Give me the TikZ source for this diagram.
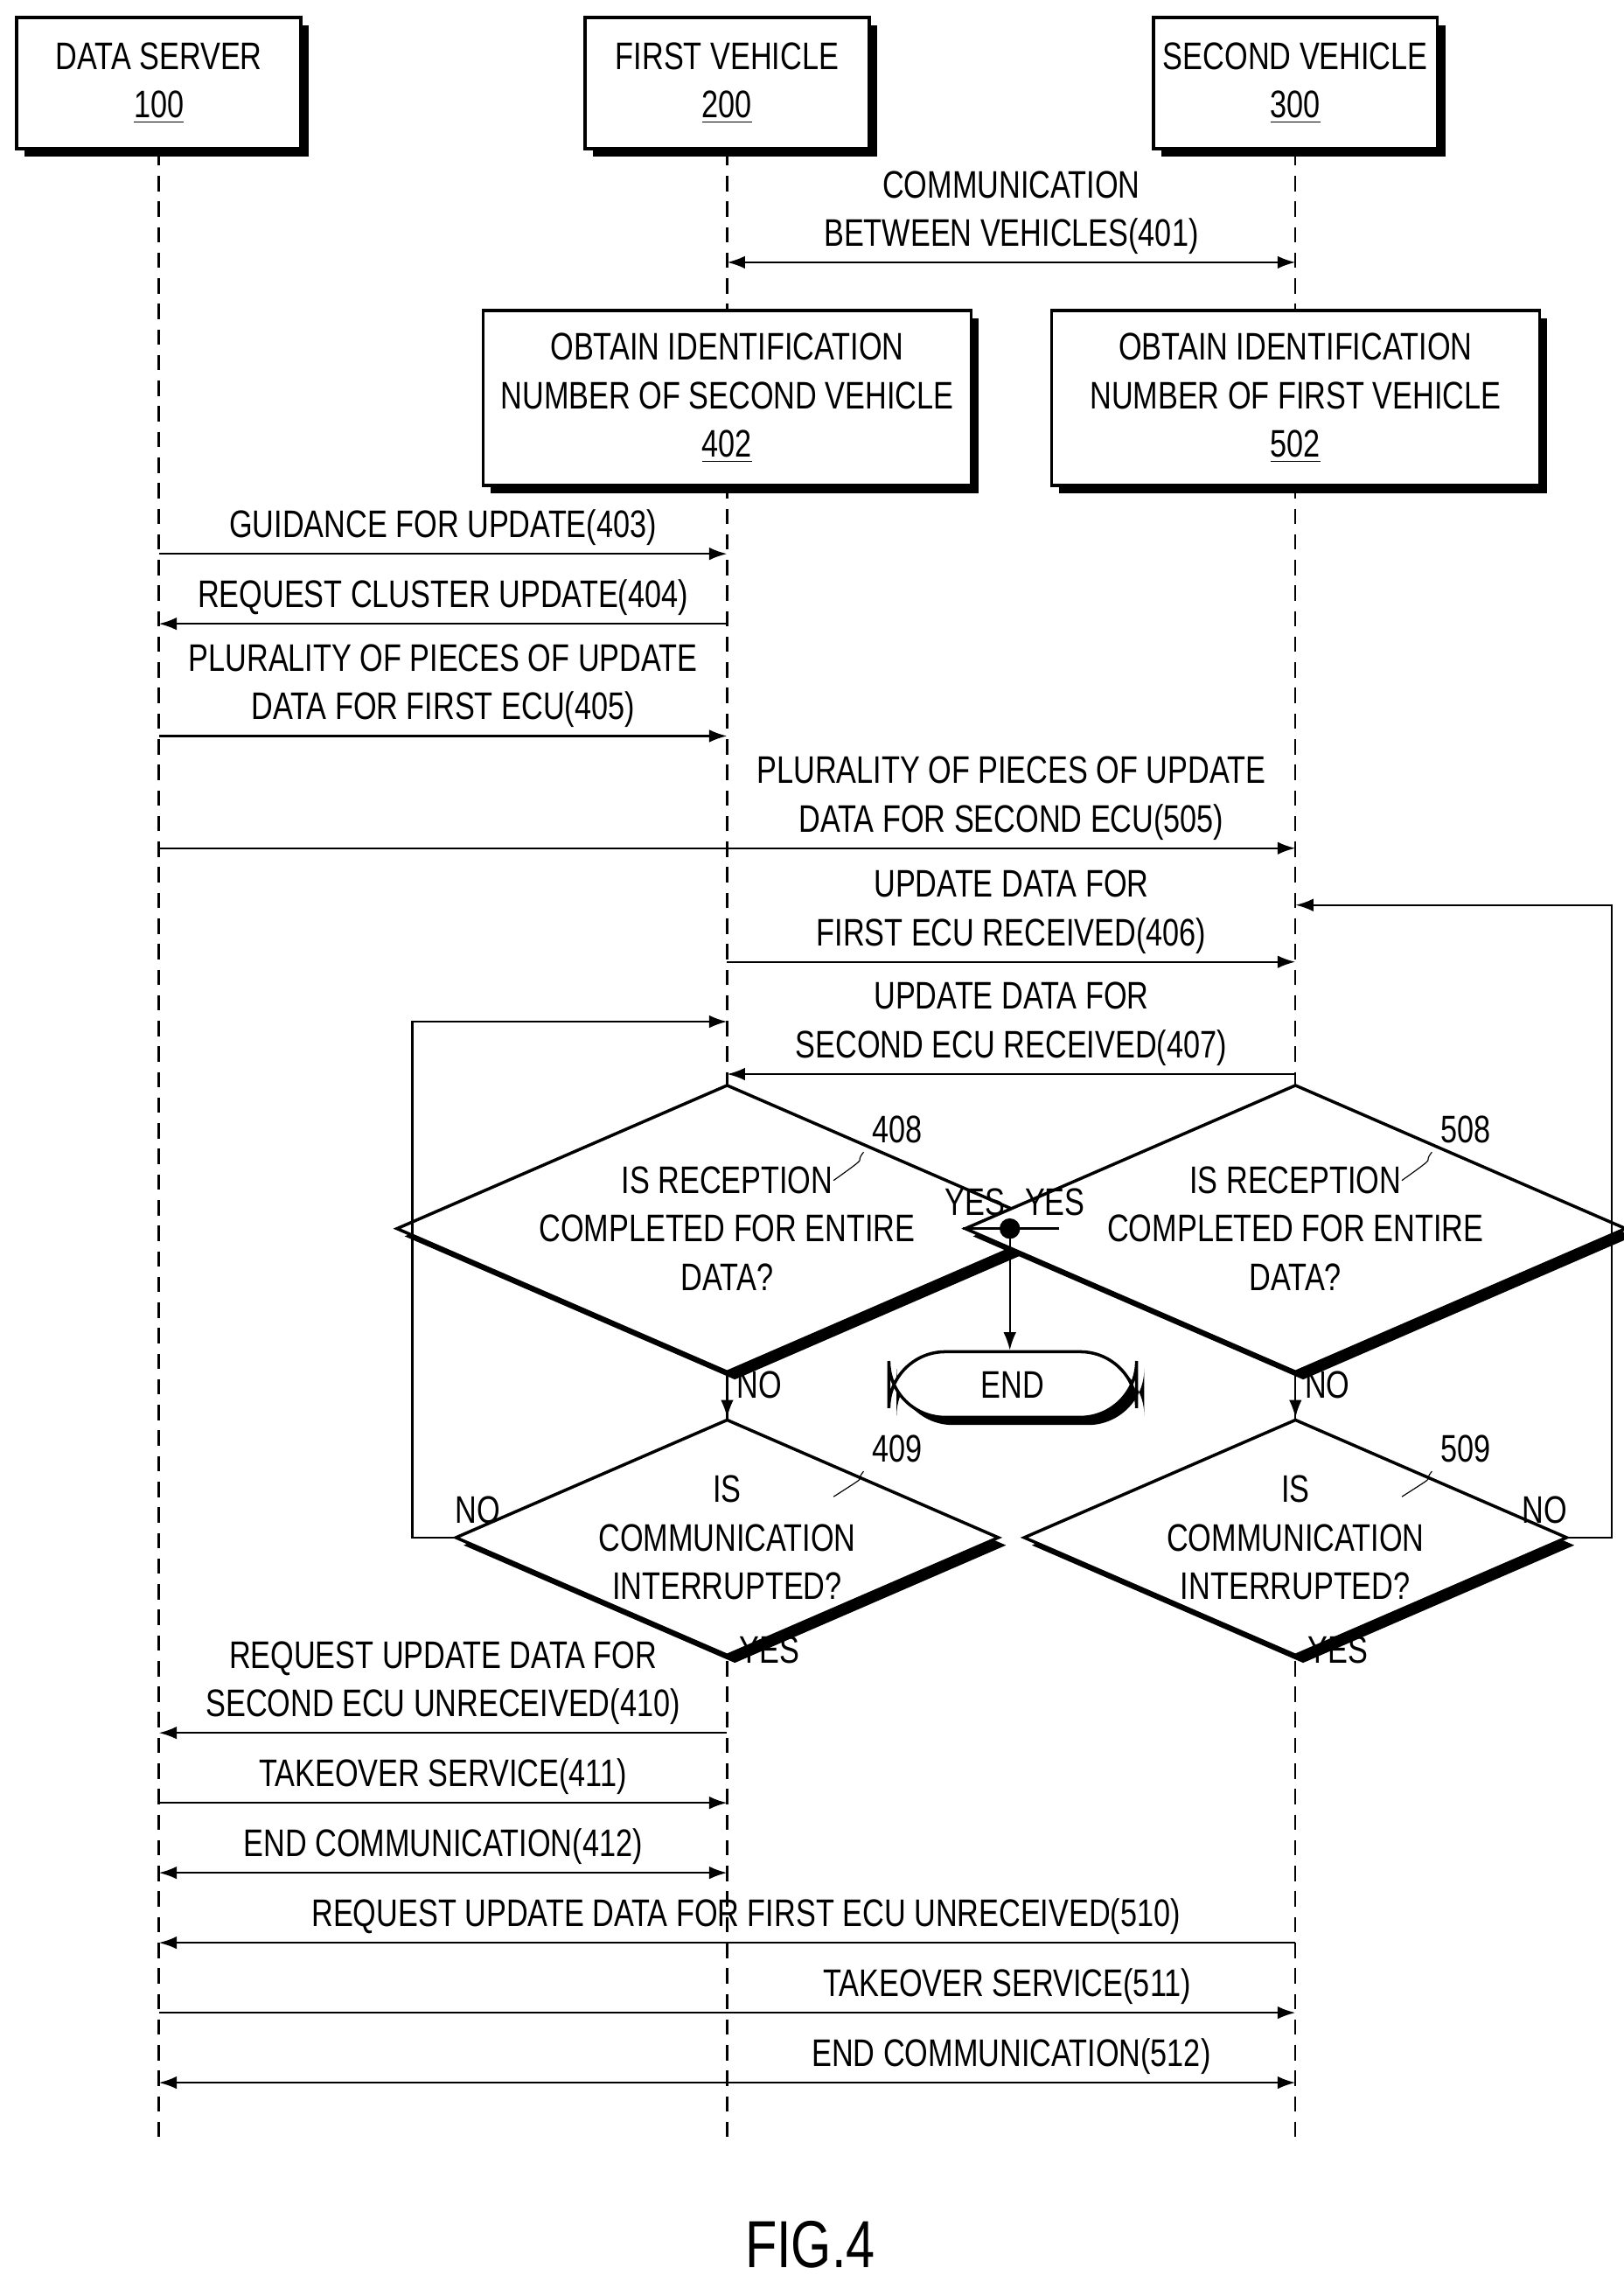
\documentclass[tikz,border=0pt]{standalone}
\usepackage{fontspec}
\setmainfont{Liberation Sans}[FakeStretch=0.78]
\usetikzlibrary{arrows.meta,shapes.geometric,shadows}
\tikzset{
    box/.style={draw, line width=1.2pt, fill=white, align=center, drop shadow={shadow xshift=3pt, shadow yshift=-3pt, fill=black, opacity=1}}, % boxes with heavy shadow
    dec/.style={draw, diamond, line width=1.2pt, fill=white, align=center, aspect=2.3, inner sep=0pt, drop shadow={shadow xshift=3pt, shadow yshift=-3pt, fill=black, opacity=1}},
    msg/.style={-{Latex[length=7pt,width=5pt]}, line width=0.8pt},
    life/.style={dashed, line width=0.8pt, dash pattern=on 6pt off 4pt}
}
\begin{document}
\begin{tikzpicture}[x=0.02cm, y=-0.02cm, font=\fontsize{15}{19}\selectfont]
    \useasboundingbox (0,0) rectangle (1114,1561);

    % headers
    \node[box, minimum width=3.9cm, minimum height=1.8cm] (srv) at (109,57) {DATA SERVER\\\underline{100}};
    \node[box, minimum width=3.9cm, minimum height=1.8cm] (veh1) at (499,57) {FIRST VEHICLE\\\underline{200}};
    \node[box, minimum width=3.9cm, minimum height=1.8cm] (veh2) at (889,57) {SECOND VEHICLE\\\underline{300}};
    \coordinate (srvEnd) at (109,1470);
    \coordinate (veh1End) at (499,1470);
    \coordinate (veh2End) at (889,1470);
    \draw[life] (srv) -- (srvEnd);
    \draw[life] (veh1) -- (veh1End);
    \draw[life] (veh2) -- (veh2End);

    % 401
    \coordinate (a1) at (499,180); \coordinate (a2) at (889,180);
    \draw[msg, {Latex[length=7pt,width=5pt]}-{Latex[length=7pt,width=5pt]}] (a1) -- (a2);
    \node[align=center] at (694,146) {COMMUNICATION\\BETWEEN VEHICLES(401)};

    \node[box, minimum width=6.7cm, minimum height=2.4cm] (obt1) at (499,273) {OBTAIN IDENTIFICATION\\NUMBER OF SECOND VEHICLE\\\underline{402}};
    \node[box, minimum width=6.7cm, minimum height=2.4cm] (obt2) at (889,273) {OBTAIN IDENTIFICATION\\NUMBER OF FIRST VEHICLE\\\underline{502}};

    % messages
    \foreach \y/\xa/\xb/\lx/\txt in {
        380/109/499/304/{GUIDANCE FOR UPDATE(403)},
        428/499/109/304/{REQUEST CLUSTER UPDATE(404)},
        505/109/499/304/{PLURALITY OF PIECES OF UPDATE\\DATA FOR FIRST ECU(405)},
        582/109/889/694/{PLURALITY OF PIECES OF UPDATE\\DATA FOR SECOND ECU(505)},
        660/499/889/694/{UPDATE DATA FOR\\FIRST ECU RECEIVED(406)},
        737/889/499/694/{UPDATE DATA FOR\\SECOND ECU RECEIVED(407)},
        1189/499/109/304/{REQUEST UPDATE DATA FOR\\SECOND ECU UNRECEIVED(410)},
        1237/109/499/304/{TAKEOVER SERVICE(411)},
        1333/889/109/512/{REQUEST UPDATE DATA FOR FIRST ECU UNRECEIVED(510)},
        1381/109/889/694/{TAKEOVER SERVICE(511)}
    } {
        \draw[msg] (\xa,\y) -- (\xb,\y);
        \node[align=center, anchor=south, inner sep=3pt] at (\lx,\y) {\txt};
    }
    \draw[msg, {Latex[length=7pt,width=5pt]}-{Latex[length=7pt,width=5pt]}] (109,1285) -- (499,1285);
    \node[anchor=south, inner sep=3pt] at (304,1285) {END COMMUNICATION(412)};
    \draw[msg, {Latex[length=7pt,width=5pt]}-{Latex[length=7pt,width=5pt]}] (109,1429) -- (889,1429);
    \node[anchor=south, inner sep=3pt] at (694,1429) {END COMMUNICATION(512)};

    % decisions
    \node[dec, minimum width=6.75cm, minimum height=2.95cm] (chk1) at (499,843) {IS RECEPTION\\COMPLETED FOR ENTIRE\\DATA?};
    \node[dec, minimum width=6.75cm, minimum height=2.95cm] (chk2) at (889,843) {IS RECEPTION\\COMPLETED FOR ENTIRE\\DATA?};
    \node[dec, minimum width=6.75cm, minimum height=2.3cm] (intr1) at (499,1055) {IS\\COMMUNICATION\\INTERRUPTED?};
    \node[dec, minimum width=6.75cm, minimum height=2.3cm] (intr2) at (889,1055) {IS\\COMMUNICATION\\INTERRUPTED?};
    \node (n408) at (616,775) {408};
    \node (n508) at (1006,775) {508};
    \node (n409) at (616,994) {409};
    \node (n509) at (1006,994) {509};
    \draw (n408.south west) .. controls (585,800) and (600,790) .. (572,810);
    \draw (n508.south west) .. controls (975,800) and (990,790) .. (962,810);
    \draw (n409.south west) .. controls (585,1019) and (600,1009) .. (572,1027);
    \draw (n509.south west) .. controls (975,1019) and (990,1009) .. (962,1027);

    % end
    \coordinate (jn) at (693,843);
    \node[draw, line width=1.2pt, rounded corners=22pt, minimum width=3.4cm, minimum height=0.9cm, fill=white, drop shadow={shadow xshift=3pt, shadow yshift=-3pt, fill=black, opacity=1}] (stop) at (695,950) {END};
    \draw[line width=0.8pt] (chk1.east) -- (chk2.west);
    \fill (jn) circle (4pt);
    \draw[msg] (jn) -- (stop.north -| jn);
    \node at (669,825) {YES};
    \node at (724,825) {YES};

    \draw[msg] (chk1.south) -- node[right, pos=0.25] {NO} (intr1.north);
    \draw[msg] (chk2.south) -- node[right, pos=0.25] {NO} (intr2.north);
    \coordinate (lp1) at (283,701);
    \coordinate (lp2) at (1106,621);
    \draw[msg] (intr1.west) -| (lp1) -- (499,701);
    \draw[msg] (intr2.east) -| (lp2) -- (889,621);
    \node at (328,1036) {NO};
    \node at (1060,1036) {NO};
    \node at (528,1132) {YES};
    \node at (918,1132) {YES};

    \node[font=\fontsize{26}{30}\selectfont] (fig) at (556,1540) {FIG.4};
\end{tikzpicture}
\end{document}
